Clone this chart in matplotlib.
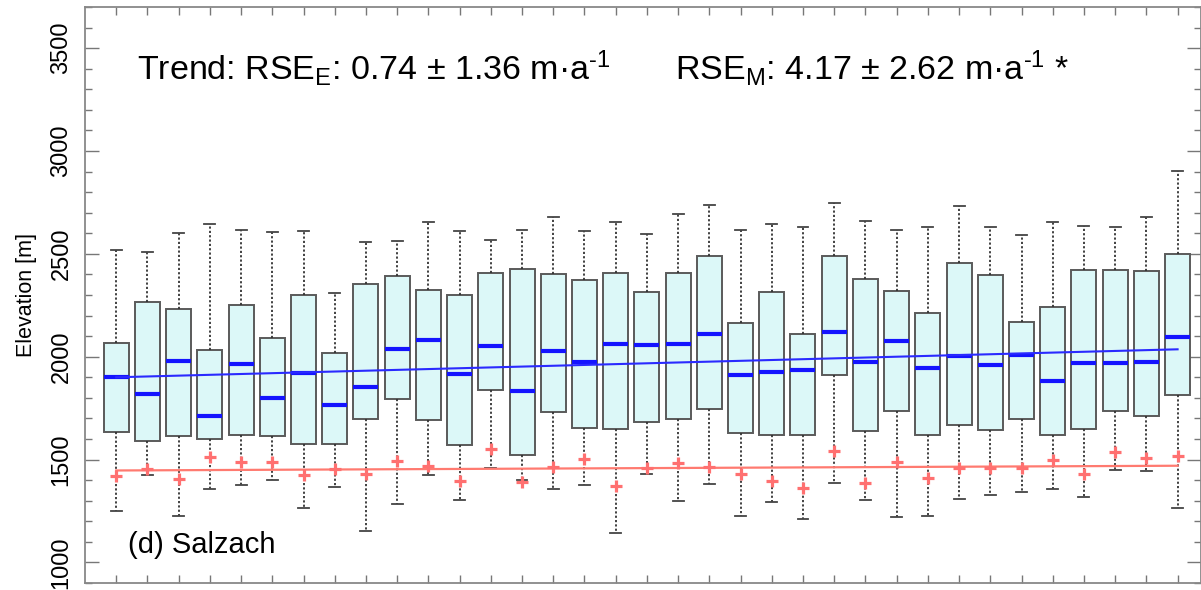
import matplotlib
matplotlib.use('Agg')
import matplotlib.pyplot as plt
from matplotlib.ticker import MultipleLocator

plt.rcParams['font.family'] = ['Liberation Sans', 'DejaVu Sans']
plt.rcParams['mathtext.fontset'] = 'custom'
plt.rcParams['mathtext.rm'] = 'Liberation Sans'
plt.rcParams['mathtext.it'] = 'Liberation Sans:italic'

# one box per year (35 years), elevations in m
whisker_high = [2520, 2509, 2602, 2647, 2614, 2605, 2610, 2309, 2558, 2564,
                2657, 2610, 2569, 2616, 2678, 2613, 2655, 2598, 2696, 2736,
                2614, 2647, 2632, 2748, 2662, 2614, 2629, 2731, 2629, 2590,
                2657, 2637, 2631, 2678, 2905]
upper_quartile = [2069, 2264, 2233, 2033, 2249, 2090, 2301, 2017, 2355, 2392,
                  2324, 2300, 2405, 2426, 2400, 2371, 2408, 2316, 2407, 2491,
                  2166, 2314, 2110, 2491, 2378, 2319, 2212, 2456, 2399, 2171,
                  2244, 2421, 2423, 2415, 2499]
median = [1900, 1817, 1979, 1711, 1965, 1801, 1922, 1767, 1853, 2039,
          2080, 1915, 2053, 1833, 2030, 1975, 2062, 2057, 2062, 2111,
          1913, 1924, 1934, 2121, 1975, 2077, 1947, 2005, 1960, 2007,
          1883, 1971, 1968, 1976, 2098]
lower_quartile = [1635, 1590, 1614, 1598, 1619, 1614, 1575, 1575, 1698, 1794,
                  1690, 1569, 1838, 1521, 1729, 1653, 1647, 1682, 1697, 1746,
                  1630, 1620, 1620, 1910, 1637, 1737, 1620, 1666, 1643, 1698,
                  1619, 1647, 1736, 1713, 1814]
whisker_low = [1250, 1427, 1224, 1359, 1375, 1403, 1267, 1367, 1153, 1283,
               1427, 1302, 1461, 1400, 1359, 1375, 1143, 1432, 1299, 1382,
               1228, 1294, 1211, 1386, 1302, 1221, 1228, 1306, 1326, 1343,
               1357, 1318, 1448, 1443, 1267]
red_marks = [1419, 1452, 1404, 1513, 1486, 1489, 1427, 1453, 1432, 1492,
             1469, 1396, 1551, 1392, 1464, 1502, 1370, 1460, 1484, 1464,
             1432, 1396, 1364, 1542, 1388, 1486, 1408, 1461, 1461, 1460,
             1500, 1432, 1535, 1510, 1517]
# trend lines, value at first and last year
blue_trend = [1900, 2036]
red_trend = [1447, 1470]

positions = list(range(1, len(median) + 1))

fig = plt.figure(figsize=(12.01, 5.90), dpi=100)
ax = fig.add_axes([85 / 1201, 7 / 590, 1 - 85 / 1201, 576 / 590])

stats = []
for i in range(len(median)):
    stats.append(dict(whislo=whisker_low[i], q1=lower_quartile[i], med=median[i],
                      q3=upper_quartile[i], whishi=whisker_high[i], fliers=[]))

ax.bxp(stats, positions=positions, widths=0.8, capwidths=0.35, patch_artist=True,
       showfliers=False,
       boxprops=dict(facecolor='#dcf8f8', edgecolor='#5a5a5a', linewidth=1.4),
       medianprops=dict(color='#1414ff', linewidth=3),
       whiskerprops=dict(color='#333333', linestyle=(0, (1.2, 1.2)), linewidth=1.3),
       capprops=dict(color='#444444', linewidth=1.3))

ax.plot([positions[0], positions[-1]], red_trend, color='#ff7a70', lw=1.6, zorder=4)
ax.plot(positions, red_marks, '+', color='#ff7070', ms=9, mew=2.3, zorder=5)
ax.plot([positions[0], positions[-1]], blue_trend, color='#2a2aff', lw=1.5, zorder=6)

ax.set_xlim(0, 35.75)
ax.set_ylim(900, 3700)
ax.set_xticks(positions)
ax.set_xticklabels([])
ax.set_yticks([1000, 1500, 2000, 2500, 3000, 3500])
ax.yaxis.set_minor_locator(MultipleLocator(100))
ax.tick_params(axis='both', which='both', direction='in', top=True, right=True,
               color='#777777')
ax.tick_params(axis='x', length=6, width=1)
ax.tick_params(axis='y', which='major', length=10, width=1, labelsize=17,
               labelrotation=90, pad=9)
ax.tick_params(axis='y', which='minor', length=5, width=1)
for lab in ax.get_yticklabels():
    lab.set_va('center')
for s in ax.spines.values():
    s.set_color('#888888')
    s.set_linewidth(1.3)

ax.set_ylabel('Elevation [m]', fontsize=15.5, labelpad=10)

fig.text(137 / 1201, 1 - 80 / 590,
         r'Trend: RSE$_\mathrm{E}$: 0.74 ± 1.36 m·a$^{\text{-1}}$',
         fontsize=24.5, va='baseline')
fig.text(675 / 1201, 1 - 80 / 590,
         r'RSE$_\mathrm{M}$: 4.17 ± 2.62 m·a$^{\text{-1}}$ *',
         fontsize=24.5, va='baseline')
fig.text(128 / 1201, 1 - 553 / 590, '(d) Salzach', fontsize=21, va='baseline')

fig.savefig('out.png', dpi=100)
